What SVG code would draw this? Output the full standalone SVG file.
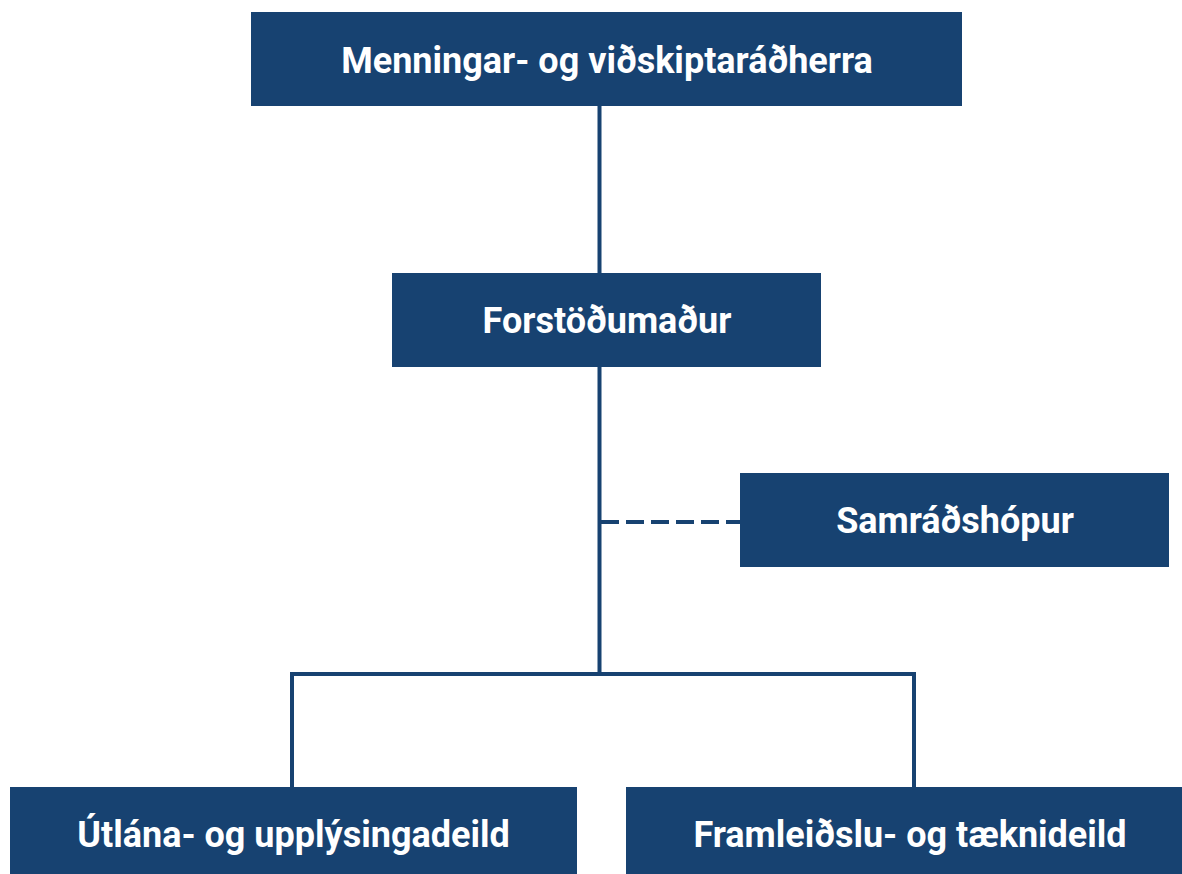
<svg xmlns="http://www.w3.org/2000/svg" width="1182" height="874" viewBox="0 0 1182 874">
<style>
.box{fill:#174271}
.lbl{fill:#ffffff;font-family:Roboto,"Open Sans","Liberation Sans",sans-serif;font-weight:bold;font-size:36px;text-anchor:middle}
.ln{fill:none;stroke:#174271;stroke-width:4}
.dash{stroke-dasharray:18 7}
</style>
<rect width="1182" height="874" fill="#ffffff"/>
<g id="connectors">
<line class="ln" x1="599.5" y1="106" x2="599.5" y2="273"/>
<line class="ln" x1="599.5" y1="367" x2="599.5" y2="676"/>
<line class="ln dash" x1="601" y1="522" x2="740" y2="522"/>
<polyline class="ln" points="292,787 292,674 914,674 914,787"/>
</g>
<g id="minister">
<rect class="box" x="251" y="12" width="711" height="94"/>
<text class="lbl" x="607" y="72.5">Menningar- og viðskiptaráðherra</text>
</g>
<g id="director">
<rect class="box" x="392" y="273" width="429" height="94"/>
<text class="lbl" x="607" y="333">Forstöðumaður</text>
</g>
<g id="advisory">
<rect class="box" x="740" y="473" width="429" height="94"/>
<text class="lbl" x="955" y="533">Samráðshópur</text>
</g>
<g id="lending">
<rect class="box" x="10" y="787" width="567" height="94"/>
<text class="lbl" x="293.5" y="847">Útlána- og upplýsingadeild</text>
</g>
<g id="production">
<rect class="box" x="626" y="787" width="568" height="94"/>
<text class="lbl" x="910" y="847">Framleiðslu- og tæknideild</text>
</g>
</svg>
